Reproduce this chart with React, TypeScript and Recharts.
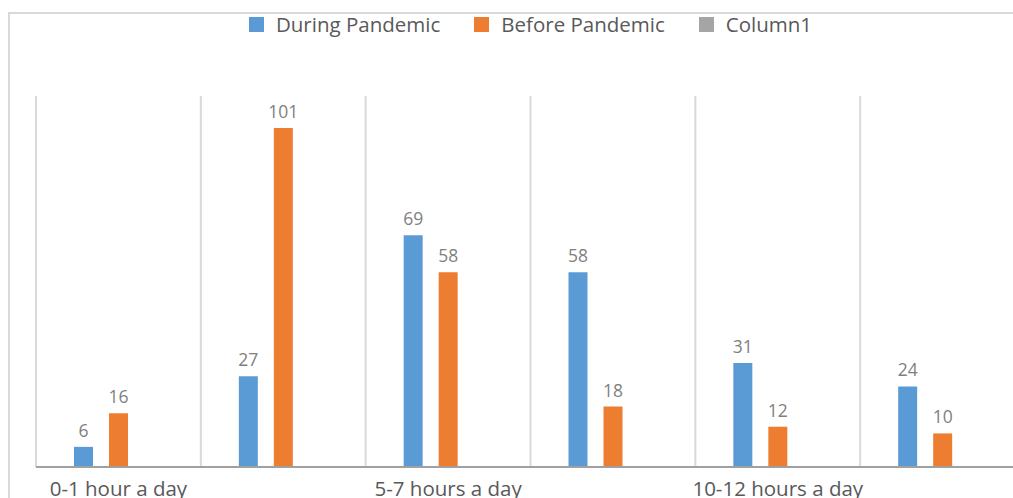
import React from 'react';
import {
  BarChart,
  Bar,
  XAxis,
  YAxis,
  CartesianGrid,
  Legend,
  LabelList,
} from 'recharts';

const categories = [
  '0-1 hour a day',
  '2-4 hours a day',
  '5-7 hours a day',
  '8-9 hours a day',
  '10-12 hours a day',
  'More than 12 hours a day',
];
const duringPandemic = [6, 27, 69, 58, 31, 24];
const beforePandemic = [16, 101, 58, 18, 12, 10];
const column1 = [0, 0, 0, 0, 0, 0];

const series = [
  { key: 'during', name: 'During Pandemic', color: '#5b9bd5' },
  { key: 'before', name: 'Before Pandemic', color: '#ed7d31' },
  { key: 'column1', name: 'Column1', color: '#a5a5a5' },
];

const data = categories.map((name, i) => ({
  name,
  during: duringPandemic[i],
  before: beforePandemic[i],
  column1: column1[i],
}));

const FONT = '"Open Sans", sans-serif';

const LegendContent = () => (
  <div
    style={{
      display: 'flex',
      justifyContent: 'center',
      alignItems: 'center',
      fontFamily: FONT,
      fontSize: 20.5,
      color: '#595959',
    }}
  >
    {series.map((s, i) => (
      <div
        key={s.key}
        style={{
          display: 'flex',
          alignItems: 'center',
          marginLeft: i === 0 ? 0 : 34,
        }}
      >
        <div
          style={{
            width: 15,
            height: 15,
            backgroundColor: s.color,
            marginRight: 12,
          }}
        />
        <span style={{ lineHeight: '24px' }}>{s.name}</span>
      </div>
    ))}
  </div>
);

const App = () => {
  return (
    <div
      style={{
        position: 'absolute',
        left: 0,
        top: 0,
        width: 1013,
        height: 498,
        overflow: 'hidden',
        background: '#fff',
        fontFamily: FONT,
      }}
    >
      <div
        style={{
          position: 'absolute',
          left: 8,
          top: 12,
          width: 1100,
          height: 600,
          borderLeft: '2px solid #d9d9d9',
          borderTop: '2px solid #d9d9d9',
        }}
      />
      <div style={{ position: 'absolute', left: 0, top: 0 }}>
        <BarChart
          width={1040}
          height={498}
          data={data}
          margin={{ top: 96, right: 15, bottom: 0, left: 36 }}
          barCategoryGap={38}
          barGap={16}
        >
          <CartesianGrid
            horizontal={false}
            stroke="#d9d9d9"
            strokeWidth={2}
            verticalCoordinatesGenerator={({ offset }: any) =>
              categories.map(
                (_, i) => offset.left + (i * offset.width) / categories.length
              )
            }
          />
          <XAxis
            dataKey="name"
            height={31}
            interval={1}
            tickLine={false}
            tickSize={6}
            tickMargin={8}
            axisLine={{ stroke: '#a0a0a0', strokeWidth: 2 }}
            tick={{ fill: '#595959', fontSize: 20.5, fontFamily: FONT }}
          />
          <YAxis hide domain={[0, 110.5]} />
          <Legend
            verticalAlign="middle"
            align="center"
            layout="horizontal"
            content={<LegendContent />}
            wrapperStyle={{ top: 12 }}
          />
          {series.map((s) => (
            <Bar
              key={s.key}
              dataKey={s.key}
              name={s.name}
              fill={s.color}
              isAnimationActive={false}
            >
              {s.key !== 'column1' && (
                <LabelList
                  dataKey={s.key}
                  position="top"
                  offset={10}
                  fill="#7f7f7f"
                  fontSize={17.5}
                  fontFamily={FONT}
                />
              )}
            </Bar>
          ))}
        </BarChart>
      </div>
    </div>
  );
};

export default App;
